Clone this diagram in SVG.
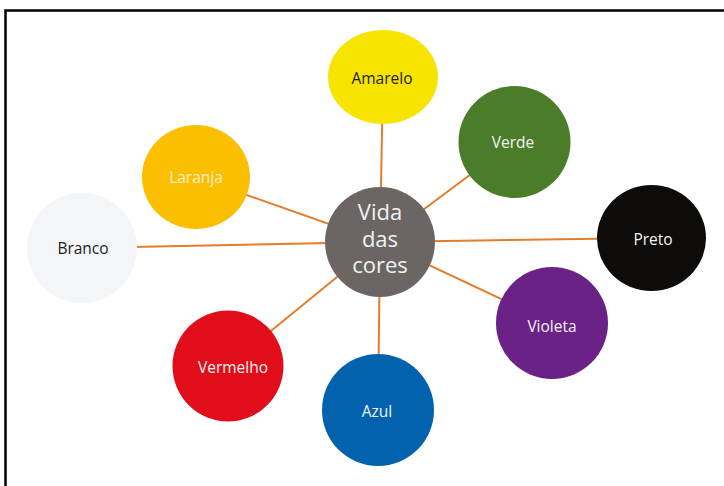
<svg xmlns="http://www.w3.org/2000/svg" width="724" height="486" viewBox="0 0 724 486">
<style>
.lbl{font-family:"Open Sans","Noto Sans",sans-serif;font-size:15.5px;text-anchor:middle}
.dark{fill:#1e1e1e}
.light{fill:#f4f4f4}
.con{stroke:#e37d2c;stroke-width:2;fill:none}
</style>
<rect width="724" height="486" fill="#ffffff"/>
<path d="M5.5,486 V10.5 H724" fill="none" stroke="#000" stroke-width="2.5"/>
<g id="connectors">
<line class="con" x1="380" y1="242" x2="383" y2="77"/>
<line class="con" x1="380" y1="242" x2="514" y2="142"/>
<line class="con" x1="380" y1="242" x2="196" y2="177"/>
<line class="con" x1="380" y1="242" x2="82" y2="248"/>
<line class="con" x1="380" y1="242" x2="651" y2="238"/>
<line class="con" x1="380" y1="242" x2="552" y2="323"/>
<line class="con" x1="380" y1="242" x2="228" y2="366"/>
<line class="con" x1="380" y1="242" x2="378" y2="410"/>
</g>
<g id="center">
<circle cx="380" cy="242" r="55" fill="#6b6664"/>
<text font-family="Open Sans,Noto Sans,sans-serif" font-size="22" fill="#f2f2f2" text-anchor="middle"><tspan x="380" y="220">Vida</tspan><tspan x="380" y="247">das</tspan><tspan x="380" y="273">cores</tspan></text>
</g>
<g id="amarelo">
<ellipse cx="383" cy="77" rx="55" ry="47" fill="#f7e400"/>
<text class="lbl dark" x="382" y="84">Amarelo</text>
</g>
<g id="verde">
<circle cx="514.5" cy="142" r="56" fill="#4b7c2a"/>
<text class="lbl light" x="513" y="148">Verde</text>
</g>
<g id="laranja">
<ellipse cx="196" cy="177" rx="54" ry="52" fill="#fbbf00"/>
<text class="lbl" fill="#fdf1cc" x="196" y="183">Laranja</text>
</g>
<g id="branco">
<circle cx="82" cy="248" r="55" fill="#f4f5f8"/>
<text class="lbl dark" x="83" y="254">Branco</text>
</g>
<g id="preto">
<ellipse cx="651.5" cy="238" rx="54.5" ry="53" fill="#0d0c0a"/>
<text class="lbl light" x="653" y="245">Preto</text>
</g>
<g id="violeta">
<circle cx="552" cy="323" r="56" fill="#6a2286"/>
<text class="lbl light" x="552" y="332">Violeta</text>
</g>
<g id="vermelho">
<circle cx="228" cy="366" r="55.5" fill="#e10d1b"/>
<text class="lbl light" x="233" y="373">Vermelho</text>
</g>
<g id="azul">
<circle cx="378" cy="410" r="56" fill="#0262ae"/>
<text class="lbl light" x="377" y="417">Azul</text>
</g>
</svg>
